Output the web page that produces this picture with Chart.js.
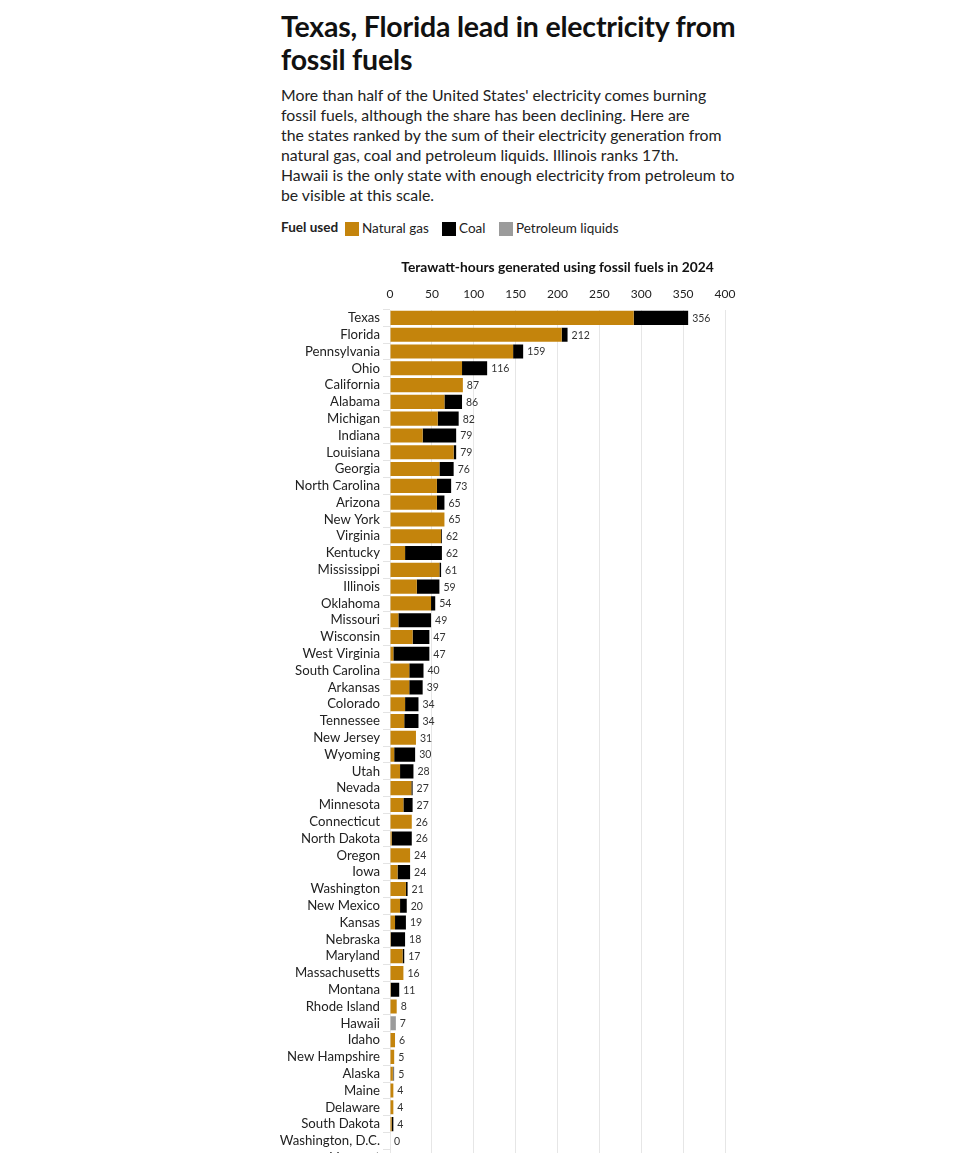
<!DOCTYPE html>
<html>
<head>
<meta charset="utf-8">
<script src="https://cdn.jsdelivr.net/npm/chart.js@4"></script>
<style>
  html, body { margin: 0; padding: 0; background: #fff; }
  body { font-family: Lato, "Open Sans", sans-serif; color: #1a1a1a; position: relative; width: 980px; height: 1190px; overflow: hidden; }
  #title { position: absolute; left: 281px; top: 10px; font-size: 28.5px; font-weight: 700; line-height: 33px; white-space: nowrap; color: #111; letter-spacing: -0.2px; }
  #desc { position: absolute; left: 281px; top: 85px; font-size: 15.8px; line-height: 20px; white-space: nowrap; color: #222; }
  #legend { position: absolute; left: 281px; top: 220px; font-size: 13.5px; line-height: 16px; white-space: nowrap; color: #222; }
  #legend .lab { position: absolute; top: 0; }
  #legend .sw { position: absolute; top: 2px; width: 14px; height: 14px; }
  #wrap { position: absolute; left: 271px; top: 250px; }
</style>
</head>
<body>
<div id="title">Texas, Florida lead in electricity from<br>fossil fuels</div>
<div id="desc">More than half of the United States' electricity comes burning<br>fossil fuels, although the share has been declining. Here are<br>the states ranked by the sum of their electricity generation from<br>natural gas, coal and petroleum liquids. Illinois ranks 17th.<br>Hawaii is the only state with enough electricity from petroleum to<br>be visible at this scale.</div>
<div id="legend">
  <span class="lab" style="left:0;font-weight:700;top:-1px">Fuel used</span>
  <span class="sw" style="left:64px;background:#c4840c"></span><span class="lab" style="left:81px">Natural gas</span>
  <span class="sw" style="left:161px;background:#000"></span><span class="lab" style="left:178px">Coal</span>
  <span class="sw" style="left:218px;background:#9b9b9b"></span><span class="lab" style="left:235px">Petroleum liquids</span>
</div>
<div id="wrap"><canvas id="c" width="480" height="927"></canvas></div>
<script>
const states = ["Texas","Florida","Pennsylvania","Ohio","California","Alabama","Michigan","Indiana","Louisiana","Georgia","North Carolina","Arizona","New York","Virginia","Kentucky","Mississippi","Illinois","Oklahoma","Missouri","Wisconsin","West Virginia","South Carolina","Arkansas","Colorado","Tennessee","New Jersey","Wyoming","Utah","Nevada","Minnesota","Connecticut","North Dakota","Oregon","Iowa","Washington","New Mexico","Kansas","Nebraska","Maryland","Massachusetts","Montana","Rhode Island","Hawaii","Idaho","New Hampshire","Alaska","Maine","Delaware","South Dakota","Washington, D.C.","Vermont"];
const naturalGas = [291,205,147,86,87,65,57,39,76,59,56,56,65,61,18,59,32,49,10,27,4,23,23,18,17,31,5,12,25.5,16,26,2,24,9,19,12,6,1,15,16,1,8,0,6,5,3.4,4,4,2,0,0];
const coal = [65,7,12,30,0,21,25,40,3,17,17,9,0,1,44,2,27,5,39,20,43,17,16,16,17,0,25,16,1.5,11,0,24,0,15,2,8,13,17,2,0,10,0,0,0,0,0.6,0,0,2,0,0];
const petroleum = [0,0,0,0,0,0,0,0,0,0,0,0,0,0,0,0,0,0,0,0,0,0,0,0,0,0,0,0,0,0,0,0,0,0,0,0,0,0,0,0,0,0,7,0,0,1,0,0,0,0,0];
const xTicks = [0,50,100,150,200,250,300,350,400];
const axisTitle = "Terawatt-hours generated using fossil fuels in 2024";

const totals = states.map((s,i) => naturalGas[i] + coal[i] + petroleum[i]);

const valueLabels = {
  id: 'valueLabels',
  afterDatasetsDraw(chart) {
    const ctx = chart.ctx;
    const xs = chart.scales.x, ys = chart.scales.y;
    ctx.save();
    ctx.font = '10.5px Lato';
    ctx.fillStyle = '#333';
    ctx.textAlign = 'left';
    ctx.textBaseline = 'middle';
    totals.forEach((t, i) => {
      const x = xs.getPixelForValue(t) + 4;
      const y = ys.getPixelForTick(i);
      ctx.fillText(String(Math.round(t)), x, y + 0.5);
    });
    ctx.restore();
  }
};

function build() {
  Chart.defaults.font.family = 'Lato';
  Chart.defaults.color = '#222';
  new Chart(document.getElementById('c'), {
    type: 'bar',
    data: {
      labels: states,
      datasets: [
        { label: 'Natural gas', data: naturalGas, backgroundColor: '#c4840c' },
        { label: 'Coal', data: coal, backgroundColor: '#000000' },
        { label: 'Petroleum liquids', data: petroleum, backgroundColor: '#9b9b9b' }
      ]
    },
    options: {
      indexAxis: 'y',
      responsive: false,
      devicePixelRatio: 1,
      animation: false,
      layout: { padding: { left: 0, right: 26, top: 0, bottom: 0 } },
      plugins: { legend: { display: false }, tooltip: { enabled: false } },
      datasets: { bar: { barPercentage: 0.84, categoryPercentage: 1, borderWidth: 0 } },
      scales: {
        x: {
          position: 'top',
          stacked: true,
          min: 0, max: 400,
          afterBuildTicks(scale) { scale.ticks = xTicks.map(v => ({ value: v })); },
          afterFit(scale) { scale.height = 59.5; },
          grid: { color: '#e6e6e6', drawTicks: false, lineWidth: 1 },
          border: { display: false },
          ticks: { padding: 8, font: { size: 12 }, color: '#222', maxRotation: 0 },
          title: { display: true, text: axisTitle, font: { size: 13.8, weight: 'bold' }, color: '#111', padding: { top: 9, bottom: 0 } }
        },
        y: {
          stacked: true,
          afterFit(scale) { scale.width = 119; },
          grid: { drawOnChartArea: false, drawTicks: true, tickLength: 7, color: '#e3e3e3' },
          border: { display: false },
          ticks: { padding: 3, font: { size: 13.2 }, color: '#222', autoSkip: false }
        }
      }
    },
    plugins: [valueLabels]
  });
}
Promise.all([document.fonts.load('13px Lato'), document.fonts.load('bold 12px Lato')]).then(build, build);
</script>
</body>
</html>
